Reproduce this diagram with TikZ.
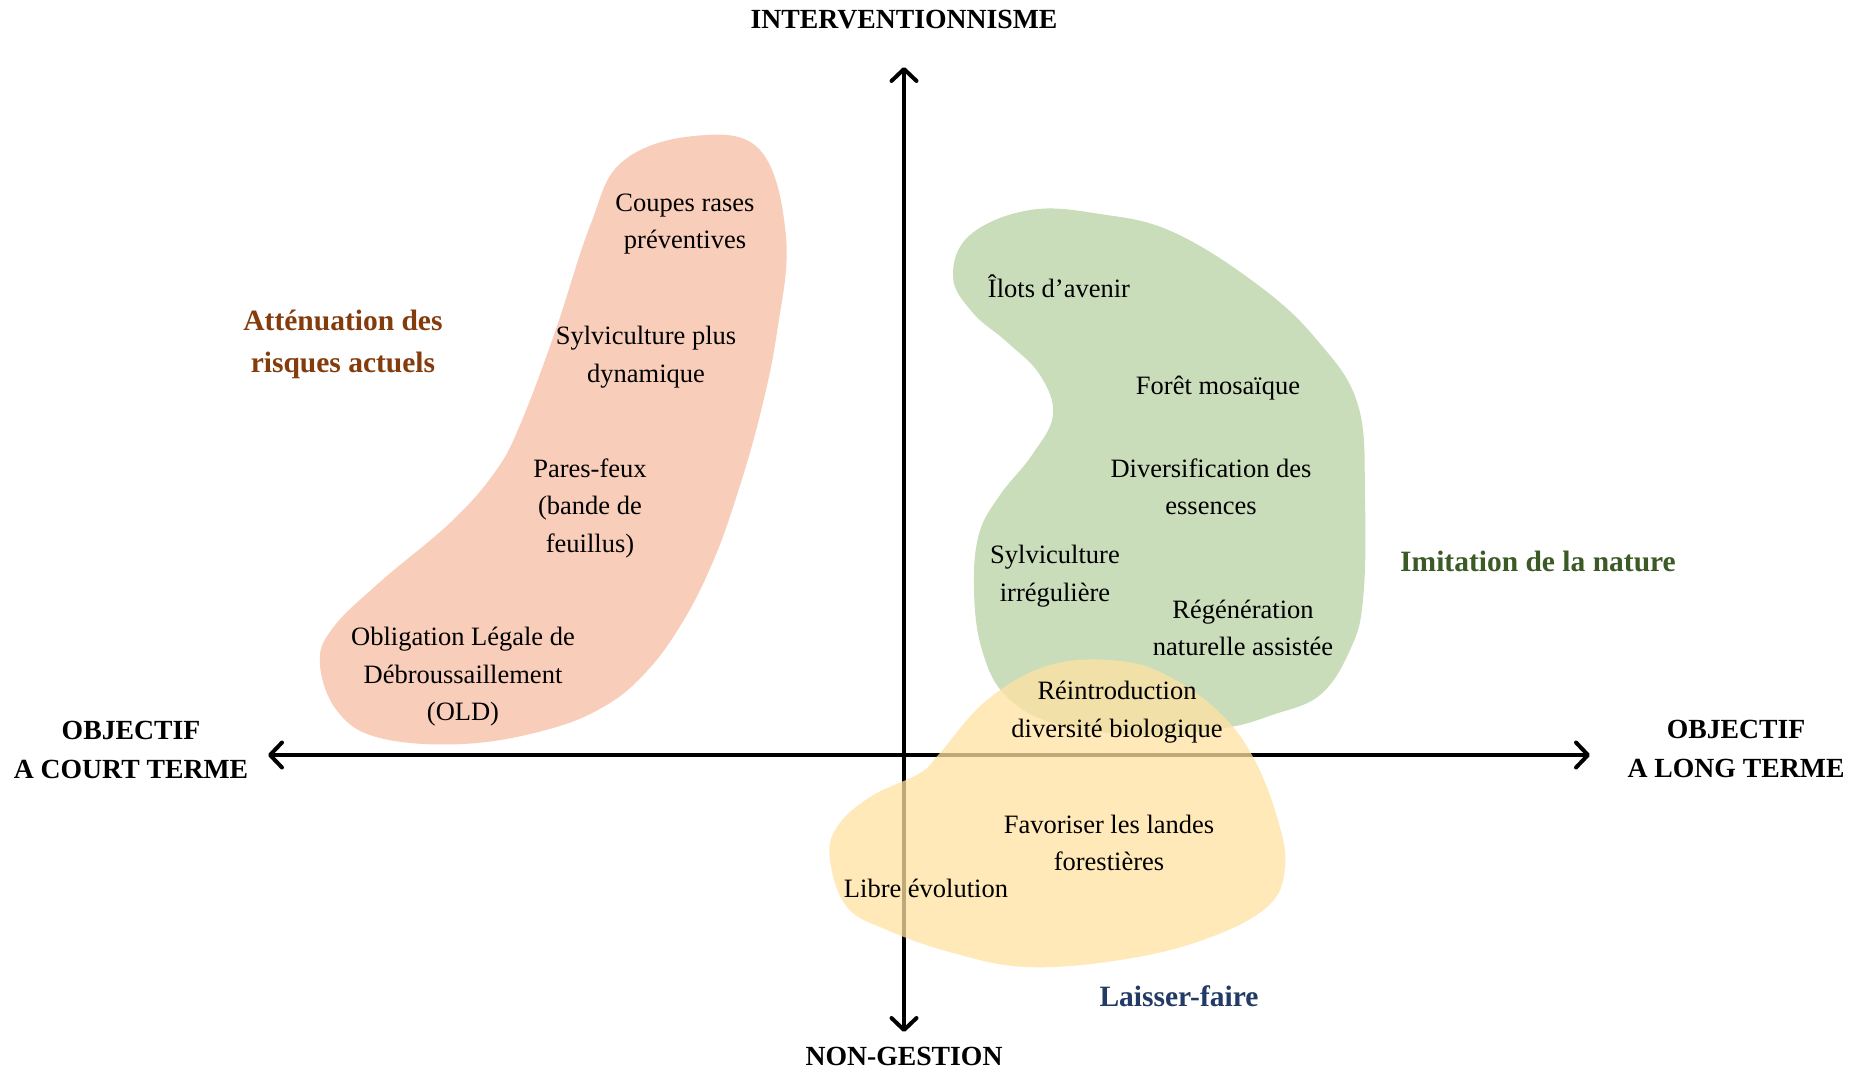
\documentclass[tikz,border=0pt]{standalone}
\usepackage{fontspec}
\setmainfont{Liberation Serif}
\usetikzlibrary{arrows.meta}
\definecolor{pinkfill}{HTML}{F8CDB9}
\definecolor{greenfill}{HTML}{CADDBB}
\definecolor{yellowfill}{HTML}{FFE2A2}
\definecolor{browntxt}{HTML}{843C0C}
\definecolor{greentxt}{HTML}{3B5A26}
\definecolor{bluetxt}{HTML}{223A66}
\tikzset{
  item/.style={align=center, inner sep=0pt, font=\fontsize{26.5}{37.5}\selectfont},
  axlabel/.style={align=center, inner sep=0pt, font=\fontsize{27.7}{39}\selectfont\bfseries},
  grouplabel/.style={align=center, inner sep=0pt, font=\fontsize{29.5}{42}\selectfont\bfseries},
  axis/.style={line width=4pt, {Straight Barb[length=12pt,width=25pt,line cap=round,line join=round]}-{Straight Barb[length=12pt,width=25pt,line cap=round,line join=round]}}
}
\begin{document}
\begin{tikzpicture}[x=1pt,y=-1pt]
\useasboundingbox (0,0) rectangle (1861,1070);
\fill[white] (0,0) rectangle (1861,1070);

% pink blob
\fill[pinkfill] plot[smooth cycle, tension=0.65] coordinates {
 (694,136) (760,150) (786,237) (777,332) (760,415) (736,498) (712,564)
 (682,623) (647,671) (605,706) (546,730) (463,744) (380,738) (338,712)
 (320,665) (332,629) (380,582) (451,522) (495,472) (520,425) (555,332)
 (590,226) (622,162)};

% green blob
\fill[greenfill] plot[smooth cycle, tension=0.65] coordinates {
 (953,277) (970,235) (1030,210) (1100,214) (1173,232) (1258,285) (1317,340)
 (1358,405) (1365,500) (1363,600) (1350,650) (1320,695) (1272,715)
 (1225,728) (1150,735) (1060,725) (1007,697) (982,650) (974,590)
 (979,534) (1000,495) (1032,455) (1053,415) (1040,375) (1007,342) (973,313)};

% axes
\coordinate (L) at (268,755);
\coordinate (R) at (1590,755);
\coordinate (T) at (904,67);
\coordinate (B) at (904,1032);
\draw[axis] (L) -- (R);
\draw[axis] (B) -- (T);

% yellow blob
\fill[yellowfill, opacity=0.75] plot[smooth cycle, tension=0.65] coordinates {
 (1120,661) (1170,677) (1220,713) (1253,757) (1277,817) (1285,867)
 (1267,907) (1203,940) (1120,960) (1027,967) (953,953) (887,930)
 (847,907) (830,860) (837,827) (870,797) (920,773) (940,753) (987,700) (1050,665)};

% axis labels
\node[axlabel] (top) at (904,20) {INTERVENTIONNISME};
\node[axlabel] (bot) at (904,1056) {NON-GESTION};
\node[axlabel] (left) at (131,750) {OBJECTIF\\A COURT TERME};
\node[axlabel] (right) at (1736,749) {OBJECTIF\\A LONG TERME};

% group labels
\node[grouplabel, text=browntxt] (att) at (343,344) {Atténuation des\\risques actuels};
\node[grouplabel, text=greentxt] (imit) at (1538,561) {Imitation de la nature};
\node[grouplabel, text=bluetxt] (laiss) at (1179,996) {Laisser-faire};

% items
\node[item] (coupes) at (685,224) {Coupes rases\\préventives};
\node[item] (sylvdyn) at (646,357) {Sylviculture plus\\dynamique};
\node[item] (pares) at (590,508) {Pares-feux\\(bande de\\feuillus)};
\node[item] (old) at (463,677) {Obligation Légale de\\Débroussaillement\\(OLD)};
\node[item] (ilots) at (1059,286) {Îlots d’avenir};
\node[item] (foret) at (1218,388) {Forêt mosaïque};
\node[item] (divers) at (1211,487) {Diversification des\\essences};
\node[item] (sylvirr) at (1055,576) {Sylviculture\\irrégulière};
\node[item] (regen) at (1243,628) {Régénération\\naturelle assistée};
\node[item] (reintro) at (1117,712) {Réintroduction\\diversité biologique};
\node[item] (landes) at (1109,843) {Favoriser les landes\\forestières};
\node[item] (libre) at (926,888) {Libre évolution};
\end{tikzpicture}
\end{document}
